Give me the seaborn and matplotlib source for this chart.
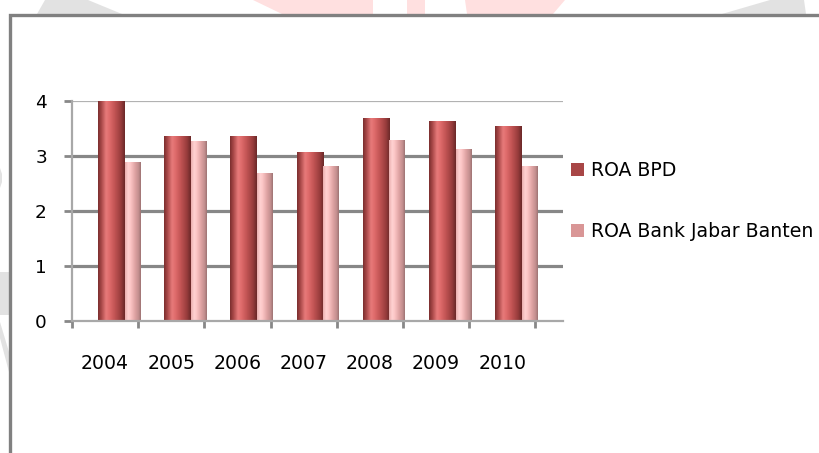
import numpy as np
import pandas as pd
import matplotlib
matplotlib.use("Agg")
import matplotlib.pyplot as plt
import seaborn as sns
from matplotlib.colors import LinearSegmentedColormap
from matplotlib.patches import Patch, Polygon, Rectangle

# ---- data -------------------------------------------------------------
years = ["2004", "2005", "2006", "2007", "2008", "2009", "2010"]
roa_bpd = [4.00, 3.36, 3.36, 3.08, 3.69, 3.63, 3.54]
roa_bjb = [2.89, 3.27, 2.70, 2.81, 3.30, 3.12, 2.81]
series_names = ["ROA BPD", "ROA Bank Jabar Banten"]
y_ticks = [0, 1, 2, 3, 4]

df = pd.DataFrame({
    "Tahun": years * 2,
    "ROA": roa_bpd + roa_bjb,
    "Seri": [series_names[0]] * len(years) + [series_names[1]] * len(years),
})

W, H = 819, 453
DPI = 100

sns.set_theme(style="white")
plt.rcParams["font.family"] = ["DejaVu Sans"]
plt.rcParams["text.color"] = "black"

fig = plt.figure(figsize=(W / DPI, H / DPI), dpi=DPI)
fig.patch.set_facecolor("white")


def px(x, y):
    """pixel position (from top-left) -> figure fraction"""
    return (x / W, 1 - y / H)


# faint background shapes around the chart frame
wm_gray = "#e2e2e2"
wm_pink = "#ffe0e0"
shapes = [
    ([(37, 14), (122, 14), (88, 0), (45, 0)], wm_gray),
    ([(253, 0), (373, 0), (373, 14), (282, 14)], wm_pink),
    ([(407, 0), (425, 0), (425, 14), (407, 14)], wm_pink),
    ([(465, 0), (565, 0), (553, 14), (467, 14)], wm_pink),
    ([(722, 14), (806, 14), (804, 0), (770, 0)], wm_gray),
    ([(0, 168), (2, 174), (2, 182), (0, 188)], wm_gray),
    ([(0, 272), (9, 272), (9, 315), (0, 315)], wm_gray),
    ([(0, 322), (9, 352), (9, 372), (0, 338)], wm_gray),
]
for pts, col in shapes:
    fig.patches.append(Polygon([px(*p) for p in pts], closed=True,
                               transform=fig.transFigure, facecolor=col,
                               edgecolor="none", zorder=0))

# chart frame
fx0, fy0 = px(9.5, 14.5)
fig.patches.append(Rectangle((fx0, -0.1), 1.2, fy0 + 0.1,
                             transform=fig.transFigure, facecolor="white",
                             edgecolor="#808080", linewidth=2.4, zorder=1))

# ---- plot area --------------------------------------------------------
ax_l, ax_r = 72, 563
ax_t, ax_b = 101, 321
ax = fig.add_axes([ax_l / W, 1 - ax_b / H, (ax_r - ax_l) / W, (ax_b - ax_t) / H])
ax.set_facecolor("none")
ax.set_zorder(2)

sns.barplot(data=df, x="Tahun", y="ROA", hue="Seri", order=years,
            hue_order=series_names, palette=["#b04a4a", "#e8a8a8"],
            ax=ax, legend=False, saturation=1, linewidth=0)

cat_px = 66.2
x_max = -0.5 + (ax_r - ax_l) / cat_px

# cylinder-like shading for each series
cmap_bpd = LinearSegmentedColormap.from_list("bpd", [
    (0.00, "#7a2e2e"), (0.12, "#a64646"), (0.30, "#e77a7a"),
    (0.42, "#e06c6c"), (0.62, "#c25454"), (0.85, "#983c3c"),
    (1.00, "#6a2828")])
cmap_bjb = LinearSegmentedColormap.from_list("bjb", [
    (0.00, "#eaaeae"), (0.20, "#ffd2d2"), (0.35, "#fcc6c6"),
    (0.62, "#e0a4a4"), (0.86, "#c28e8e"), (1.00, "#9c7272")])

offsets = [(-0.107, 0.403), (0.296, 0.232)]   # (left edge, width) per series
cmaps = [cmap_bpd, cmap_bjb]
grad = np.linspace(0, 1, 256).reshape(1, -1)

for s, cont in enumerate(ax.containers):
    for i, bar in enumerate(cont.patches):
        left, width = offsets[s]
        bar.set_x(i + left)
        bar.set_width(width)
        h = bar.get_height()
        im = ax.imshow(grad, extent=[i + left, i + left + width, 0, h],
                       aspect="auto", cmap=cmaps[s], zorder=2.5,
                       interpolation="bilinear")
        im.set_clip_path(bar)

ax.set_xlim(-0.5, x_max)
ax.set_ylim(0, 4)
ax.set_aspect("auto")
ax.set_axisbelow(True)

# gridlines
for v in y_ticks[1:-1]:
    ax.axhline(v, color="#878787", lw=2.3, zorder=0.5)
ax.axhline(4, color="#b2b2b2", lw=1.6, zorder=0.5)

for side in ["top", "right"]:
    ax.spines[side].set_visible(False)
ax.spines["left"].set_color("#a8a8a8")
ax.spines["left"].set_linewidth(1.6)
ax.spines["bottom"].set_color("#a8a8a8")
ax.spines["bottom"].set_linewidth(1.6)

ax.set_yticks(y_ticks)
ax.set_yticklabels([str(t) for t in y_ticks])
ax.tick_params(axis="y", direction="out", length=6, width=2.0,
               color="#888888", pad=12, labelsize=13.3, labelcolor="black",
               left=True)

ax.set_xticks(range(len(years)))
ax.set_xticklabels(years)
ax.tick_params(axis="x", which="major", length=0, pad=24, labelsize=13.6,
               labelcolor="black")
ax.set_xticks([i - 0.5 for i in range(len(years) + 1)], minor=True)
ax.tick_params(axis="x", which="minor", direction="out", length=5,
               width=2.0, color="#888888", bottom=True)

ax.set_xlabel("")
ax.set_ylabel("")

# legend
handles = [Patch(facecolor="#a84646", edgecolor="none"),
           Patch(facecolor="#d99696", edgecolor="none")]
leg = fig.legend(handles, series_names, loc="upper left",
                 bbox_to_anchor=px(567, 157), frameon=False, fontsize=13.6,
                 handlelength=0.7, handleheight=0.7, handletextpad=0.38,
                 labelspacing=2.25, borderpad=0.2, borderaxespad=0)
for t in leg.get_texts():
    t.set_color("black")
leg.set_zorder(3)

fig.savefig("out.png", dpi=DPI)
